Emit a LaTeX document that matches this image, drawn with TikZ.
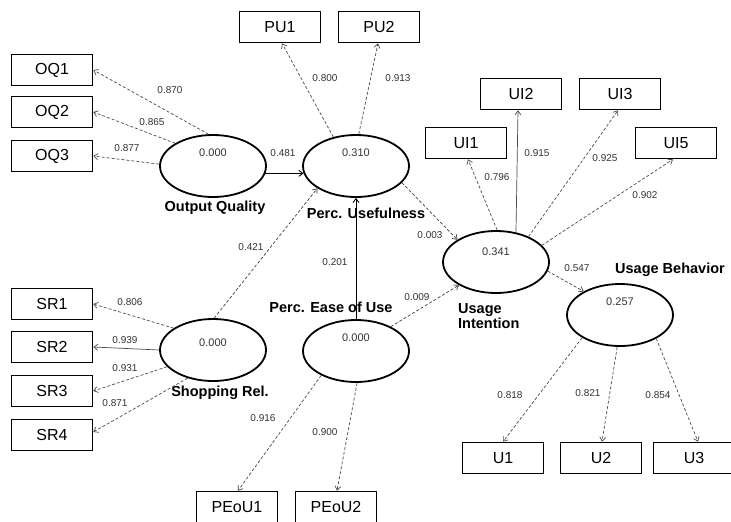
\documentclass[tikz,border=0pt]{standalone}
\usepackage{fontspec}
\setmainfont{Liberation Sans}
\usetikzlibrary{shapes.geometric,arrows.meta}

\tikzset{
  item/.style={draw, line width=1.6pt, rectangle, minimum width=81pt,
    minimum height=31pt, inner sep=0pt, font=\fontsize{16}{18}\selectfont},
  construct/.style={draw, line width=1.8pt, ellipse, minimum width=106pt,
    minimum height=62pt, inner sep=0pt},
  rsq/.style={font=\fontsize{11}{12}\selectfont, text=black!80},
  coef/.style={font=\fontsize{10}{11}\selectfont, text=black!80, inner sep=1pt},
  cname/.style={font=\fontsize{14.5}{16}\selectfont\bfseries, inner sep=0pt},
  tip/.style={-{Straight Barb[length=4pt,width=6pt]}},
  load/.style={tip, draw=black!70, line width=0.7pt, dash pattern=on 3pt off 2pt},
  loadsolid/.style={tip, draw=black!70, line width=0.7pt},
  path/.style={tip, draw=black, line width=0.9pt},
  pathd/.style={tip, draw=black!75, line width=0.7pt, dash pattern=on 3pt off 2pt},
}

\begin{document}
\begin{tikzpicture}[x=1pt, y=-1pt]
\useasboundingbox[fill=white] (0,0) rectangle (731,522);

% latent constructs
\node[construct] (oq)   at (213,166) {};
\node[construct] (pu)   at (356,166) {};
\node[construct] (ui)   at (496,262) {};
\node[construct] (ub)   at (620,315) {};
\node[construct] (sr)   at (213,350) {};
\node[construct] (peou) at (356,351) {};

% R-squared values
\node[rsq] (oqr)   at (213,153) {0.000};
\node[rsq] (pur)   at (356,153) {0.310};
\node[rsq] (uir)   at (496,252) {0.341};
\node[rsq] (ubr)   at (620,302) {0.257};
\node[rsq] (srr)   at (213,343) {0.000};
\node[rsq] (peour) at (356,338) {0.000};

% construct names
\node[cname] (oqn)   at (215,208) {Output Quality};
\node[cname] (pun)   at (366,213) {Perc. Usefulness};
\node[cname] (srn)   at (220,393) {Shopping Rel.};
\node[cname] (peoun) at (331,307) {Perc. Ease of Use};
\node[cname] (ubn)   at (670,270) {Usage Behavior};
\node[cname, align=left, anchor=west] (uin) at (458,316) {Usage\\[-1pt]Intention};

% indicators
\node[item] (oq1) at (52,70)  {OQ1};
\node[item] (oq2) at (52,112) {OQ2};
\node[item] (oq3) at (52,156) {OQ3};
\node[item] (pu1) at (280,27) {PU1};
\node[item] (pu2) at (379,27) {PU2};
\node[item] (ui1) at (466,143) {UI1};
\node[item] (ui2) at (521,94)  {UI2};
\node[item] (ui3) at (620,94)  {UI3};
\node[item] (ui5) at (676,143) {UI5};
\node[item] (sr1) at (52,304) {SR1};
\node[item] (sr2) at (52,347) {SR2};
\node[item] (sr3) at (52,391) {SR3};
\node[item] (sr4) at (52,435) {SR4};
\node[item] (pe1) at (237,507) {PEoU1};
\node[item] (pe2) at (336,507) {PEoU2};
\node[item] (u1)  at (503,458) {U1};
\node[item] (u2)  at (601,458) {U2};
\node[item] (u3)  at (694,458) {U3};

% outer loadings
\draw[load] (oq.98)  -- (oq1.east);
\draw[load] (oq.149) -- (oq2.east);
\draw[load] (oq.178) -- (oq3.east);
\draw[load] (pu.128) -- ([xshift=2pt]pu1.south);
\draw[load] (pu.85)  -- ([xshift=-1pt]pu2.south);
\draw[load] (ui.88)  -- ([xshift=2pt]ui1.south);
\draw[loadsolid] (ui.56) -- ([xshift=-3pt]ui2.south);
\draw[load] (ui.38)  -- ([xshift=-2pt]ui3.south);
\draw[load] (ui.20)  -- ([xshift=-3pt]ui5.south);
\draw[load] (sr.151) -- (sr1.east);
\draw[loadsolid] (sr.180) -- (sr2.east);
\draw[load] (sr.200) -- (sr3.east);
\draw[load] (sr.228) -- ([yshift=3pt]sr4.east);
\draw[load] (peou.215) -- ([xshift=1pt]pe1.north);
\draw[load] (peou.272) -- ([xshift=1pt]pe2.north);
\draw[load] (ub.211) -- (u1.north);
\draw[load] (ub.265) -- ([xshift=1pt]u2.north);
\draw[load] (ub.327) -- ([xshift=4pt]u3.north);

% structural paths
\draw[path]  (oq.-8)    -- (pu.188);
\draw[path]  (peou.north) -- (pu.south);
\draw[pathd] (sr.88)    -- (pu.210);
\draw[pathd] (pu.-20)   -- (ui.150);
\draw[pathd] (peou.35)  -- (ui.212);
\draw[pathd] (ui.-10)   -- (ub.147);

% path coefficients and loadings
\node[coef] (c1)  at (170,90)  {0.870};
\node[coef] (c2)  at (152,122) {0.865};
\node[coef] (c3)  at (127,148) {0.877};
\node[coef] (c4)  at (283,153) {0.481};
\node[coef] (c5)  at (325,78)  {0.800};
\node[coef] (c6)  at (398,78)  {0.913};
\node[coef] (c7)  at (497,177) {0.796};
\node[coef] (c8)  at (537,153) {0.915};
\node[coef] (c9)  at (605,158) {0.925};
\node[coef] (c10) at (645,195) {0.902};
\node[coef] (c11) at (430,235) {0.003};
\node[coef] (c12) at (577,268) {0.547};
\node[coef] (c13) at (510,395) {0.818};
\node[coef] (c14) at (588,393) {0.821};
\node[coef] (c15) at (658,395) {0.854};
\node[coef] (c16) at (130,302) {0.806};
\node[coef] (c17) at (125,340) {0.939};
\node[coef] (c18) at (125,368) {0.931};
\node[coef] (c19) at (115,403) {0.871};
\node[coef] (c20) at (251,247) {0.421};
\node[coef] (c21) at (335,262) {0.201};
\node[coef] (c22) at (417,297) {0.009};
\node[coef] (c23) at (263,418) {0.916};
\node[coef] (c24) at (325,432) {0.900};
\end{tikzpicture}
\end{document}
